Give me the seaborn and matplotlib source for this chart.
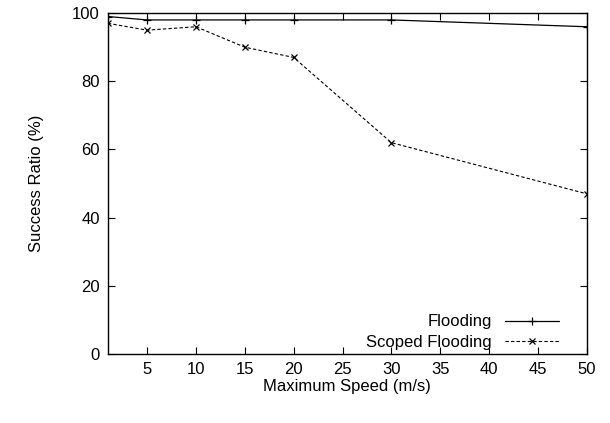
import pandas as pd
import seaborn as sns
import matplotlib
matplotlib.use("Agg")
import matplotlib.pyplot as plt

speed = [1, 5, 10, 15, 20, 30, 50]
flooding = [99, 98, 98, 98, 98, 98, 96]
scoped_flooding = [97, 95, 96, 90, 87, 62, 47]

df = pd.DataFrame({"speed": speed, "Flooding": flooding,
                   "Scoped Flooding": scoped_flooding})

sns.set_style("ticks")
plt.rcParams["font.family"] = ["Liberation Sans", "DejaVu Sans"]
plt.rcParams["text.color"] = "black"
plt.rcParams["axes.labelcolor"] = "black"
plt.rcParams["xtick.color"] = "black"
plt.rcParams["ytick.color"] = "black"
plt.rcParams["axes.edgecolor"] = "black"

fig, ax = plt.subplots(figsize=(6.1, 4.23), dpi=100)
fig.subplots_adjust(left=0.177, right=0.962, top=0.969, bottom=0.163)

# solid line with plus markers
sns.lineplot(data=df, x="speed", y="Flooding", color="black", linestyle="-",
             marker="+", markersize=6, markeredgewidth=0.9,
             markeredgecolor="black", linewidth=0.9, label="Flooding", ax=ax)
# dashed line with cross markers
sns.lineplot(data=df, x="speed", y="Scoped Flooding", color="black",
             linestyle=(0, (3, 2)), marker="x", markersize=5,
             markeredgewidth=0.9, markeredgecolor="black", linewidth=0.8,
             label="Scoped Flooding", ax=ax)

ax.set_xlim(1, 50)
ax.set_ylim(0, 100)
ax.set_xticks(range(5, 51, 5))
ax.set_yticks(range(0, 101, 20))
ax.tick_params(direction="in", top=True, right=True, length=5, labelsize=12,
               pad=6)
for s in ax.spines.values():
    s.set_visible(True)
    s.set_linewidth(1)
ax.set_xlabel("Maximum Speed (m/s)", fontsize=12, labelpad=1)
ax.set_ylabel("Success Ratio (%)", fontsize=12, labelpad=20)
ax.legend(loc="lower right", bbox_to_anchor=(0.962, -0.018), frameon=False,
          markerfirst=False, fontsize=12, handlelength=3.2,
          borderaxespad=0.2, labelspacing=0.35, handletextpad=0.8)

fig.savefig("out.png", dpi=100)
